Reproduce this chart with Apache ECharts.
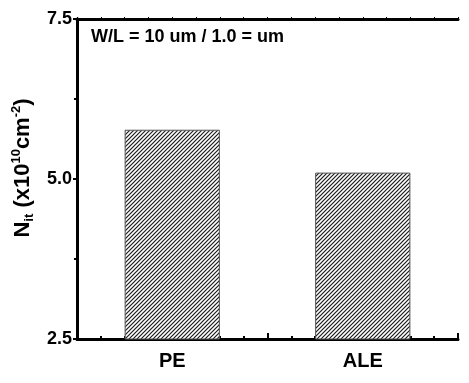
<!DOCTYPE html>
<html>
<head>
<meta charset="utf-8">
<script src="https://cdn.jsdelivr.net/npm/echarts@6/dist/echarts.min.js"></script>
<style>
  html, body { margin: 0; padding: 0; background: #fff; }
  #chart { width: 469px; height: 383px; }
</style>
</head>
<body>
<div id="chart"></div>
<script>
// Interface trap density for the two etch processes
const categories = ['PE', 'ALE'];
const nitValues = [5.77, 5.10];
// Slot labels along the x axis (bars sit on the named slots)
const xSlotLabels = ['', 'PE', '', 'ALE', ''];
const yTickValues = [2.5, 5.0, 7.5];
const noteText = 'W/L = 10 um / 1.0 = um';

const FONT = '"Liberation Sans", Arial, sans-serif';

// Diagonal hatch fill for the bars
function hatchPattern() {
  const s = 4;
  const c = document.createElement('canvas');
  c.width = s; c.height = s;
  const g = c.getContext('2d');
  g.fillStyle = '#fff';
  g.fillRect(0, 0, s, s);
  g.strokeStyle = '#1a1a1a';
  g.lineWidth = 1.2;
  g.beginPath();
  g.moveTo(-1, s + 1); g.lineTo(s + 1, -1);
  g.moveTo(-1, 1); g.lineTo(1, -1);
  g.moveTo(s - 1, s + 1); g.lineTo(s + 1, s - 1);
  g.stroke();
  return c;
}

const barData = categories.map((name, i) => [xSlotLabels.indexOf(name), nitValues[i]]);

const chart = echarts.init(document.getElementById('chart'), null, { renderer: 'canvas' });

const axisLineStyle = { show: true, lineStyle: { color: '#000', width: 3 } };

chart.setOption({
  animation: false,
  backgroundColor: '#fff',
  grid: { left: 77, right: 11, top: 19, bottom: 44, containLabel: false },
  xAxis: [
    {
      type: 'value', position: 'bottom', min: 0, max: xSlotLabels.length - 1, interval: 1,
      axisLine: axisLineStyle,
      axisTick: { show: true, inside: true, length: 6, lineStyle: { color: '#000', width: 2 } },
      minorTick: { show: true, splitNumber: 4, length: 3, lineStyle: { color: '#000', width: 2 } },
      splitLine: { show: false },
      axisLabel: {
        margin: 12,
        fontFamily: FONT, fontWeight: 'bold', fontSize: 20, color: '#000',
        formatter: v => xSlotLabels[Math.round(v)] || ''
      }
    },
    {
      type: 'value', position: 'top', min: 0, max: xSlotLabels.length - 1, interval: 1,
      axisLine: axisLineStyle,
      axisTick: { show: true, inside: false, length: 2, lineStyle: { color: '#000', width: 1 } },
      minorTick: { show: true, splitNumber: 4, length: 2, lineStyle: { color: '#000', width: 1 } },
      splitLine: { show: false },
      axisLabel: { show: false }
    }
  ],
  yAxis: [
    {
      type: 'value', position: 'left',
      min: yTickValues[0], max: yTickValues[yTickValues.length - 1], interval: 2.5,
      axisLine: axisLineStyle,
      axisTick: { show: true, inside: false, length: 4, lineStyle: { color: '#000', width: 2 } },
      minorTick: { show: true, splitNumber: 2, length: 3, lineStyle: { color: '#000', width: 2 } },
      splitLine: { show: false },
      axisLabel: {
        margin: 5,
        fontFamily: FONT, fontWeight: 'bold', fontSize: 18, color: '#000',
        formatter: v => v.toFixed(1)
      },
      name: '{a|N}{s|it}{a| (x10}{p|10}{a|cm}{p|-2}{a|)}',
      nameLocation: 'middle',
      nameGap: 37,
      nameRotate: 90,
      nameTextStyle: {
        padding: [0, 0, 0, 22],
        rich: {
          a: { fontFamily: FONT, fontWeight: 'bold', fontSize: 22, color: '#000', lineHeight: 26 },
          s: { fontFamily: FONT, fontWeight: 'bold', fontSize: 13, color: '#000', lineHeight: 13, verticalAlign: 'bottom' },
          p: { fontFamily: FONT, fontWeight: 'bold', fontSize: 13, color: '#000', lineHeight: 13, verticalAlign: 'top' }
        }
      }
    },
    {
      type: 'value', position: 'right',
      min: yTickValues[0], max: yTickValues[yTickValues.length - 1], interval: 2.5,
      axisLine: axisLineStyle,
      axisTick: { show: true, inside: false, length: 2, lineStyle: { color: '#000', width: 1 } },
      minorTick: { show: true, splitNumber: 2, length: 2, lineStyle: { color: '#000', width: 1 } },
      splitLine: { show: false },
      axisLabel: { show: false }
    }
  ],
  graphic: [
    {
      type: 'text', left: 91, top: 28,
      style: { text: noteText, fontFamily: FONT, fontWeight: 'bold', fontSize: 18, fill: '#000' }
    }
  ],
  series: [
    {
      type: 'bar',
      xAxisIndex: 0, yAxisIndex: 0,
      data: barData,
      barWidth: '50%',
      itemStyle: {
        color: { image: hatchPattern(), repeat: 'repeat' },
        borderColor: '#555',
        borderWidth: 1
      },
      z: 1
    }
  ]
});
</script>
</body>
</html>
